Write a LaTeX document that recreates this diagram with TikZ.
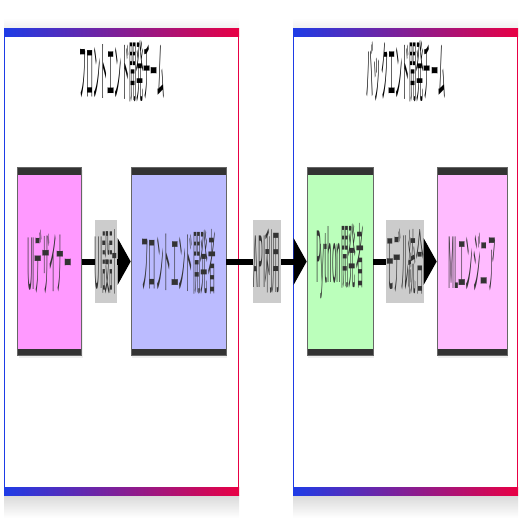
\documentclass[tikz,border=0pt]{standalone}
\usepackage{graphicx}
\usepackage{fontspec}
\newfontfamily\jpfont{Noto Sans CJK JP}
\usetikzlibrary{arrows.meta,shadows}
\definecolor{teamblue}{RGB}{30,60,230}
\definecolor{teamred}{RGB}{232,0,68}
\definecolor{bardark}{RGB}{51,51,51}
\definecolor{uipink}{RGB}{255,153,255}
\definecolor{feblue}{RGB}{187,187,255}
\definecolor{pygreen}{RGB}{187,255,187}
\definecolor{mlpink}{RGB}{255,187,255}
\definecolor{labelgray}{RGB}{204,204,204}
\newcommand{\sqz}[1]{\scalebox{0.17}[1.6]{#1}}

\begin{document}
\begin{tikzpicture}[x=1pt,y=-1pt,
    teambar/.style={left color=teamblue,right color=teamred},
    teamtitle/.style={font=\jpfont\fontsize{42}{46}\selectfont,text=black,inner sep=0pt},
    role/.style={draw=black!60,line width=0.6pt,minimum height=188pt,inner sep=0pt,
        font=\jpfont\fontsize{44}{48}\selectfont,text=bardark,
        drop shadow={opacity=0.12,shadow xshift=1pt,shadow yshift=-2pt},
        path picture={
            \fill[bardark] (path picture bounding box.north west) rectangle ([yshift=-7pt]path picture bounding box.north east);
            \fill[bardark] (path picture bounding box.south west) rectangle ([yshift=7pt]path picture bounding box.south east);
        }},
    edgelbl/.style={fill=labelgray,minimum height=83pt,inner sep=0pt,
        font=\jpfont\fontsize{44}{48}\selectfont,text=bardark},
    flow/.style={line width=6pt,draw=black},
    flowtip/.style={flow,-{Triangle[length=13pt,width=46pt]}}]
    \useasboundingbox (0,0) rectangle (525,525);

    \shade[top color=black!15,bottom color=white] (4,495) rectangle (239,518);
    \shade[top color=white,bottom color=black!6] (4,18) rectangle (239,28);
    \fill[white] (4,28) rectangle (239,495);
    \shade[teambar] (4,28) rectangle (239,36);
    \shade[teambar] (4,487) rectangle (239,495);
    \draw[teamblue,line width=1.2pt] (4.6,36) -- (4.6,487);
    \draw[teamred,line width=1.2pt] (238.4,36) -- (238.4,487);

    \shade[top color=black!15,bottom color=white] (293,495) rectangle (518,518);
    \shade[top color=white,bottom color=black!6] (293,18) rectangle (518,28);
    \fill[white] (293,28) rectangle (518,495);
    \shade[teambar] (293,28) rectangle (518,36);
    \shade[teambar] (293,487) rectangle (518,495);
    \draw[teamblue,line width=1.2pt] (293.6,36) -- (293.6,487);
    \draw[teamred,line width=1.2pt] (517.4,36) -- (517.4,487);

    \node[teamtitle] (T1) at (122,71) {\sqz{フロントエンド開発チーム}};
    \node[teamtitle] (T2) at (406,71) {\sqz{バックエンド開発チーム}};

    \node[role,fill=uipink,minimum width=64pt] (A) at (49.5,261.5) {\sqz{UIデザイナー}};
    \node[role,fill=feblue,minimum width=95pt] (B) at (178.5,261.5) {\sqz{フロントエンド開発者}};
    \node[role,fill=pygreen,minimum width=66pt] (C) at (340,261.5) {\sqz{Python開発者}};
    \node[role,fill=mlpink,minimum width=70pt] (D) at (472,261.5) {\sqz{MLエンジニア}};

    \node[edgelbl,minimum width=22pt] (L1) at (106,261.5) {\sqz{UI設計}};
    \node[edgelbl,minimum width=28pt] (L2) at (267,261.5) {\sqz{API利用}};
    \node[edgelbl,minimum width=38pt] (L3) at (405,261.5) {\sqz{モデル統合}};

    \draw[flow] (A) -- (L1);
    \draw[flowtip] (L1) -- (B);
    \draw[flow] (B) -- (L2);
    \draw[flowtip] (L2) -- (C);
    \draw[flow] (C) -- (L3);
    \draw[flowtip] (L3) -- (D);
\end{tikzpicture}
\end{document}
